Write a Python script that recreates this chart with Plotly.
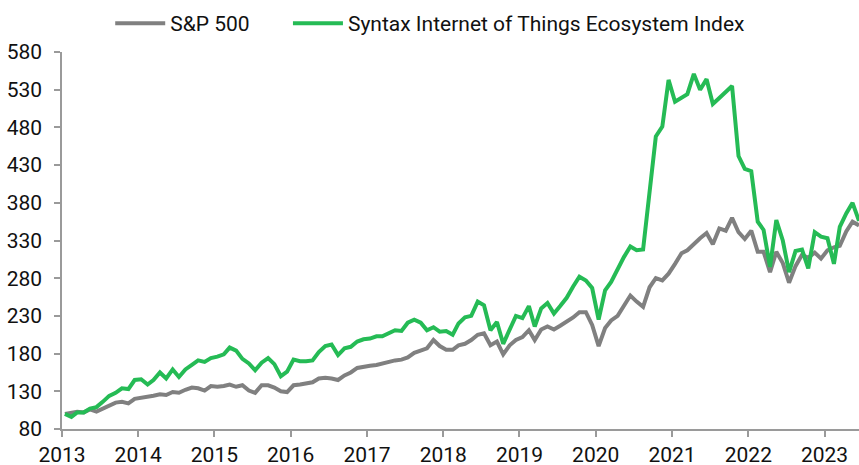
import pandas as pd
import plotly.graph_objects as go

start_month = "2013-01-01"

sp500 = [100, 101, 103, 102, 106, 103, 107, 111, 115, 116, 114, 120,
         121, 122, 124, 126, 125, 129, 128, 132, 135, 134, 131, 137,
         136, 137, 139, 136, 138, 131, 128, 138, 138, 135, 130, 129,
         138, 139, 141, 142, 147, 148, 147, 145, 151, 155, 161, 163,
         164, 165, 167, 169, 171, 172, 175, 181, 184, 187, 198, 190,
         185, 185, 191, 193, 198, 205, 207, 191, 196, 179, 191, 198,
         202, 211, 198, 212, 216, 212, 217, 222, 228, 235, 235, 218,
         190, 214, 224, 230, 243, 257, 249, 242, 268, 280, 277, 286,
         299, 313, 317, 326, 333, 340, 325, 346, 343, 360, 341, 332,
         343, 315, 315, 288, 315, 300, 274, 296, 311, 307, 314, 306,
         317, 321, 323, 342, 355, 350]

iot_index = [100, 96, 102, 102, 107, 109, 116, 124, 128, 134, 133, 145,
             146, 139, 145, 155, 147, 159, 149, 159, 165, 171, 169, 174,
             176, 179, 188, 184, 173, 167, 158, 168, 174, 166, 150, 156,
             172, 170, 170, 171, 182, 190, 192, 178, 187, 189, 196, 199,
             200, 203, 203, 207, 211, 210, 221, 225, 221, 211, 215, 209,
             210, 205, 220, 228, 230, 249, 244, 211, 222, 193, 213, 230,
             227, 243, 216, 240, 247, 233, 243, 254, 269, 282, 277, 267,
             225, 264, 275, 292, 308, 322, 317, 318, 393, 468, 481, 543,
             514, 520, 524, 551, 530, 544, 511, 519, 527, 535, 442, 425,
             422, 355, 344, 295, 357, 330, 288, 316, 318, 293, 341, 335,
             333, 299, 348, 366, 380, 356]

series_names = ["S&P 500", "Syntax Internet of Things Ecosystem Index"]
series_colors = ["#808080", "#25BB55"]
y_ticks = [80, 130, 180, 230, 280, 330, 380, 430, 480, 530, 580]

dates = pd.date_range(start_month, periods=len(sp500), freq="MS") + pd.Timedelta(days=14)

fig = go.Figure()
for k, (name, vals, col) in enumerate(zip(series_names, [sp500, iot_index], series_colors)):
    fig.add_trace(go.Scatter(x=dates, y=vals, mode="lines", name=name,
                             line=dict(color=col, width=4),
                             legend="legend" if k == 0 else "legend2"))

legend_common = dict(orientation="h", yanchor="middle", y=1.0755, xanchor="left",
                     font=dict(family="Roboto", size=21, color="#111111"),
                     bgcolor="rgba(0,0,0,0)", itemwidth=50, borderwidth=0)

fig.update_layout(
    width=859, height=465,
    margin=dict(l=62, r=0, t=51.5, b=36, autoexpand=False),
    paper_bgcolor="white", plot_bgcolor="white",
    font=dict(family="Roboto", size=21, color="#111111"),
    showlegend=True,
    legend=dict(x=0.0605, **legend_common),
    legend2=dict(x=0.2835, **legend_common),
)
fig.update_xaxes(
    type="date", range=["2013-01-01", "2023-06-15"],
    tick0="2013-01-01", dtick="M12", tickformat="%Y",
    showgrid=False, zeroline=False, automargin=False,
    showline=True, linecolor="#9a9a9a", linewidth=1.5,
    ticks="outside", ticklen=6, tickcolor="#9a9a9a", tickwidth=1.5,
    tickfont=dict(family="Roboto", size=21, color="#111111"),
)
fig.update_yaxes(
    range=[80, 580], tickvals=y_ticks, ticktext=[str(v) for v in y_ticks],
    showgrid=False, zeroline=False, automargin=False,
    showline=True, linecolor="#9a9a9a", linewidth=1.5,
    ticks="outside", ticklen=6, tickcolor="#9a9a9a", tickwidth=1.5,
    ticklabelstandoff=8,
    tickfont=dict(family="Roboto", size=21, color="#111111"),
)

fig.write_html("out.html", config={"displayModeBar": False},
               post_script="document.body.style.margin='0';")
